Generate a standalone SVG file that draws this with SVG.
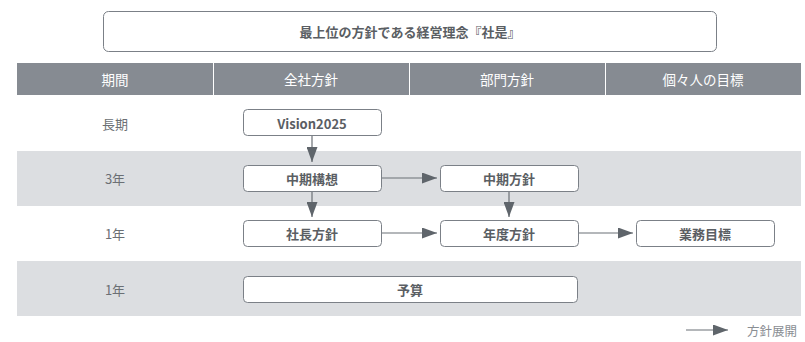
<svg xmlns="http://www.w3.org/2000/svg" width="805" height="342" viewBox="0 0 805 342">
<defs>
<style>
.t{font-family:"Noto Sans CJK JP","Noto Sans",sans-serif;text-anchor:middle;dominant-baseline:central}
.hd{fill:#ffffff;font-size:13.5px}
.rl{fill:#6b6f74;font-size:13px}
.nd rect{fill:#ffffff;stroke:#7b8087;stroke-width:1}
.nd text{fill:#5a5e63;font-size:13px;font-weight:bold}
.cn{stroke:#6b7076;stroke-width:1.2;fill:none}
</style>
<marker id="ah" viewBox="0 0 15 11" refX="15" refY="5.5" markerWidth="15" markerHeight="11" markerUnits="userSpaceOnUse" orient="auto">
<path d="M0,0 L15,5.5 L0,11 Z" fill="#5f656b"/>
</marker>
</defs>
<rect width="805" height="342" fill="#ffffff"/>
<g id="top">
<rect x="103.5" y="11.5" width="613" height="40" rx="5" fill="#ffffff" stroke="#7b8087"/>
<text class="t" x="410" y="31.5" fill="#5a5e63" font-size="13" font-weight="bold">最上位の方針である経営理念『社是』</text>
</g>
<g id="header">
<rect x="17" y="63" width="196" height="32" fill="#868b92"/>
<rect x="214" y="63" width="195" height="32" fill="#868b92"/>
<rect x="410" y="63" width="195" height="32" fill="#868b92"/>
<rect x="606" y="63" width="195" height="32" fill="#868b92"/>
<text class="t hd" x="115" y="79">期間</text>
<text class="t hd" x="311" y="79">全社方針</text>
<text class="t hd" x="507" y="79">部門方針</text>
<text class="t hd" x="703" y="79">個々人の目標</text>
</g>
<g id="rows">
<rect x="17" y="151" width="784" height="55" fill="#dcdee1"/>
<rect x="17" y="261" width="784" height="55" fill="#dcdee1"/>
<text class="t rl" x="115" y="123">長期</text>
<text class="t rl" x="115" y="178">3年</text>
<text class="t rl" x="115" y="233">1年</text>
<text class="t rl" x="115" y="289">1年</text>
</g>
<g id="connectors">
<line class="cn" x1="312" y1="136" x2="312" y2="162" marker-end="url(#ah)"/>
<line class="cn" x1="312" y1="191" x2="312" y2="217" marker-end="url(#ah)"/>
<line class="cn" x1="509" y1="191" x2="509" y2="217" marker-end="url(#ah)"/>
<line class="cn" x1="381" y1="178" x2="437" y2="178" marker-end="url(#ah)"/>
<line class="cn" x1="381" y1="233" x2="437" y2="233" marker-end="url(#ah)"/>
<line class="cn" x1="578" y1="233" x2="633" y2="233" marker-end="url(#ah)"/>
</g>
<g id="n-vision" class="nd"><rect x="243.5" y="109.5" width="138" height="26" rx="4"/><text class="t" x="312" y="123">Vision2025</text></g>
<g id="n-chuki-koso" class="nd"><rect x="243.5" y="165.5" width="138" height="26" rx="4"/><text class="t" x="312" y="178">中期構想</text></g>
<g id="n-chuki-hoshin" class="nd"><rect x="440.5" y="165.5" width="138" height="26" rx="4"/><text class="t" x="509" y="178">中期方針</text></g>
<g id="n-shacho" class="nd"><rect x="243.5" y="220.5" width="138" height="26" rx="4"/><text class="t" x="312" y="233">社長方針</text></g>
<g id="n-nendo" class="nd"><rect x="440.5" y="220.5" width="138" height="26" rx="4"/><text class="t" x="509" y="233">年度方針</text></g>
<g id="n-gyomu" class="nd"><rect x="636.5" y="220.5" width="138" height="26" rx="4"/><text class="t" x="705" y="233">業務目標</text></g>
<g id="n-yosan" class="nd"><rect x="243.5" y="276.5" width="334" height="26" rx="4"/><text class="t" x="410" y="289">予算</text></g>
<g id="legend">
<line class="cn" x1="686" y1="330" x2="728" y2="330" marker-end="url(#ah)"/>
<text class="t" x="772" y="330" fill="#8a8e93" font-size="12.5">方針展開</text>
</g>
</svg>
